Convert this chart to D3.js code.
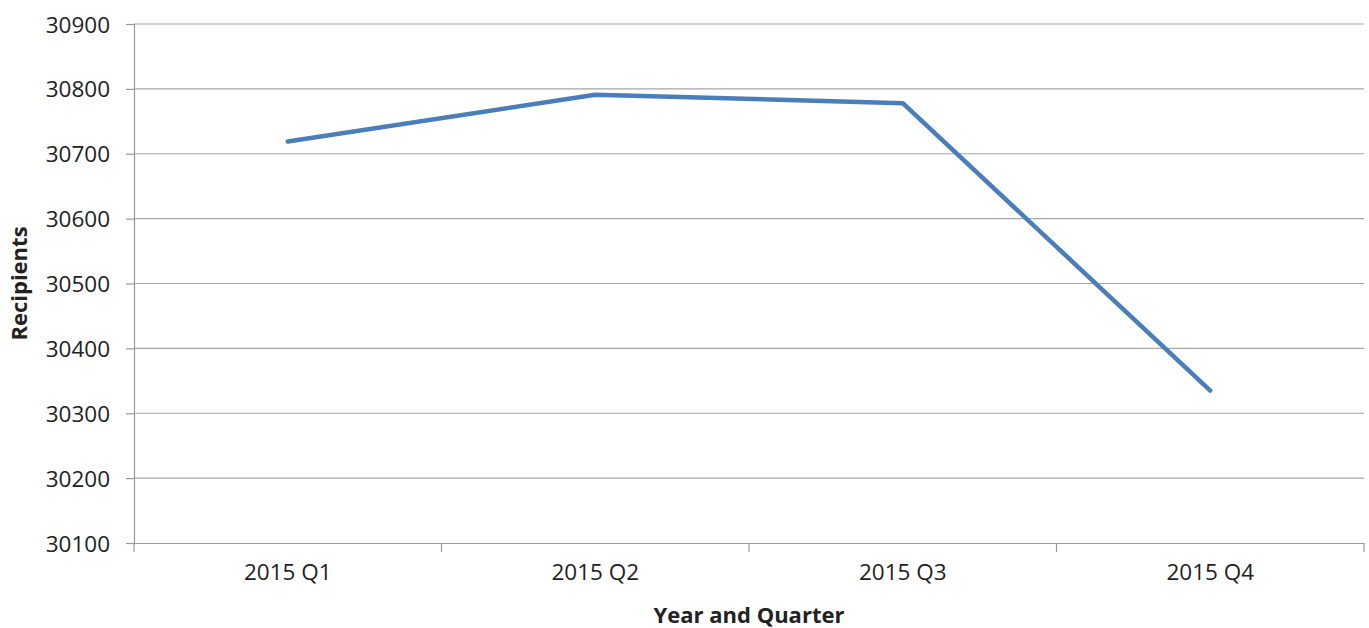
<!DOCTYPE html>
<html>
<head>
<meta charset="utf-8">
<script src="https://cdn.jsdelivr.net/npm/d3@7"></script>
<style>
  body { margin: 0; background: #fff; }
  text { font-family: "Open Sans", sans-serif; fill: #222; }
</style>
</head>
<body>
<div id="chart"></div>
<script>
const quarters = ["2015 Q1", "2015 Q2", "2015 Q3", "2015 Q4"];
const recipients = [30719, 30791, 30778, 30335];
const yTicks = [30100, 30200, 30300, 30400, 30500, 30600, 30700, 30800, 30900];

const width = 1369, height = 628;
const margin = { top: 24, right: 5, bottom: 85, left: 134 };
const innerW = width - margin.left - margin.right;
const innerH = height - margin.top - margin.bottom;

const svg = d3.select("#chart").append("svg")
    .attr("width", width)
    .attr("height", height);

const g = svg.append("g")
    .attr("transform", "translate(" + margin.left + "," + margin.top + ")");

const x = d3.scaleBand().domain(quarters).range([0, innerW]);
const y = d3.scaleLinear().domain([30100, 30900]).range([innerH, 0]);

// gridlines
g.append("g").selectAll("line")
    .data(yTicks.slice(1))
    .enter().append("line")
    .attr("x1", 0).attr("x2", innerW)
    .attr("y1", d => y(d)).attr("y2", d => y(d))
    .attr("stroke", "#a6a6a6")
    .attr("stroke-width", 1.2);

// y axis
const yAxis = g.append("g")
    .call(d3.axisLeft(y).tickValues(yTicks).tickSize(8).tickPadding(16).tickFormat(d3.format("d")));
yAxis.select(".domain").attr("stroke", "#999").attr("stroke-width", 1.2);
yAxis.selectAll(".tick line").attr("stroke", "#999").attr("stroke-width", 1.2);
yAxis.selectAll("text").style("font-size", "22.5px").attr("fill", "#222").attr("dy", "0.36em");

// x axis
const xAxis = g.append("g")
    .attr("transform", "translate(0," + innerH + ")")
    .call(d3.axisBottom(x).tickSize(0).tickPadding(21));
xAxis.select(".domain").attr("stroke", "#999").attr("stroke-width", 1.2);
xAxis.selectAll("text").style("font-size", "22.5px").attr("fill", "#222");

// category boundary ticks
const bounds = quarters.map(d => x(d)).concat([innerW]);
g.append("g").selectAll("line")
    .data(bounds)
    .enter().append("line")
    .attr("x1", d => d).attr("x2", d => d)
    .attr("y1", innerH).attr("y2", innerH + 9)
    .attr("stroke", "#999")
    .attr("stroke-width", 1.2);

// line
const line = d3.line()
    .x((d, i) => x(quarters[i]) + x.bandwidth() / 2)
    .y(d => y(d));

g.append("path")
    .datum(recipients)
    .attr("d", line)
    .attr("fill", "none")
    .attr("stroke", "#4a7ebb")
    .attr("stroke-width", 4.5)
    .attr("stroke-linejoin", "round")
    .attr("stroke-linecap", "round");

// titles
svg.append("text")
    .attr("x", margin.left + innerW / 2)
    .attr("y", 623)
    .attr("text-anchor", "middle")
    .style("font-size", "22px")
    .style("font-weight", "bold")
    .text("Year and Quarter");

svg.append("text")
    .attr("transform", "translate(27," + (margin.top + innerH / 2) + ") rotate(-90)")
    .attr("text-anchor", "middle")
    .style("font-size", "22px")
    .style("font-weight", "bold")
    .text("Recipients");
</script>
</body>
</html>
